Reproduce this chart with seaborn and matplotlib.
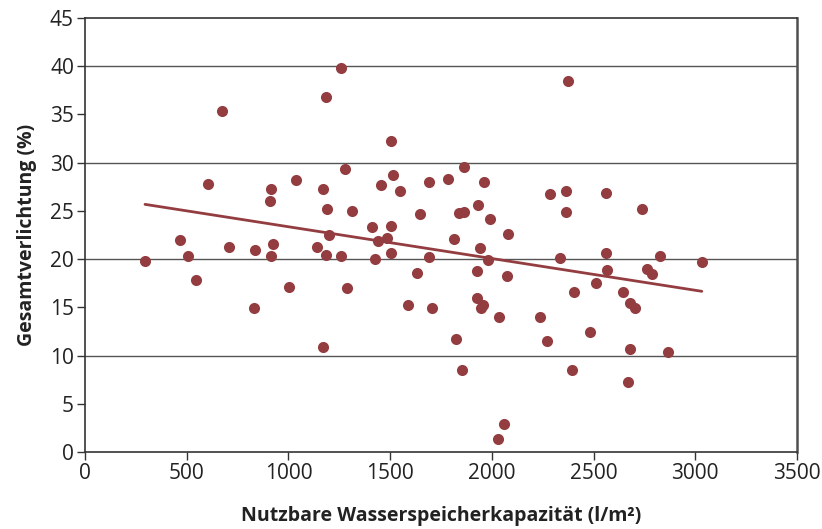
import numpy as np
import pandas as pd
import matplotlib
matplotlib.use("Agg")
import matplotlib.pyplot as plt
import seaborn as sns

# Data
kapazitaet = [295, 467, 505, 544, 605, 675, 706, 831, 836, 908, 913, 914, 924, 1003,
              1037, 1139, 1170, 1172, 1186, 1186, 1188, 1201, 1257, 1258, 1278, 1288,
              1314, 1411, 1427, 1439, 1455, 1486, 1503, 1504, 1506, 1513, 1550, 1586,
              1632, 1649, 1690, 1690, 1704, 1783, 1816, 1826, 1837, 1855, 1862, 1862,
              1926, 1929, 1930, 1942, 1947, 1958, 1960, 1983, 1993, 2032, 2037, 2060,
              2073, 2078, 2237, 2271, 2285, 2337, 2363, 2365, 2376, 2394, 2404, 2483,
              2511, 2560, 2561, 2566, 2643, 2668, 2678, 2679, 2706, 2738, 2761, 2789,
              2827, 2866, 3032]
verlichtung = [19.8, 21.95, 20.3, 17.8, 27.8, 35.4, 21.3, 14.9, 20.9, 26.0, 20.3, 27.3,
               21.6, 17.1, 28.2, 21.3, 27.3, 10.85, 36.8, 20.4, 25.2, 22.5, 20.3, 39.8,
               29.3, 17.0, 24.96, 23.3, 20.0, 21.85, 27.7, 22.2, 32.2, 20.6, 23.4, 28.7,
               27.1, 15.2, 18.6, 24.7, 28.0, 20.2, 14.9, 28.3, 22.1, 11.75, 24.8, 8.5,
               24.9, 29.6, 16.0, 18.8, 25.6, 21.15, 14.9, 15.2, 28.0, 19.9, 24.2, 1.3,
               14.0, 2.9, 18.25, 22.6, 14.0, 11.55, 26.8, 20.15, 24.85, 27.1, 38.5, 8.5,
               16.6, 12.4, 17.5, 20.6, 26.9, 18.9, 16.6, 7.26, 15.5, 10.7, 14.9, 25.2,
               19.0, 18.5, 20.3, 10.4, 19.7]
x_ticks = [0, 500, 1000, 1500, 2000, 2500, 3000, 3500]
y_ticks = [0, 5, 10, 15, 20, 25, 30, 35, 40, 45]
y_grid = [10, 20, 30, 40]

df = pd.DataFrame({"x": kapazitaet, "y": verlichtung})

sns.set_theme(style="white")
plt.rcParams["font.family"] = ["Open Sans", "DejaVu Sans"]

color = "#943D41"
fig = plt.figure(figsize=(8.22, 5.29), dpi=100)
ax = fig.add_axes([85 / 822, 1 - 452 / 529, 712 / 822, 434 / 529])

for g in y_grid:
    ax.axhline(g, color="#555555", lw=1.0, zorder=0)

sns.regplot(data=df, x="x", y="y", ax=ax, ci=None, color=color,
            scatter_kws={"s": 64, "alpha": 1, "linewidths": 0, "zorder": 3},
            line_kws={"lw": 2.0, "zorder": 2})

ax.set_xlim(0, 3500)
ax.set_ylim(0, 45)
ax.set_xticks(x_ticks)
ax.set_yticks(y_ticks)
ax.tick_params(axis="both", which="major", direction="out", length=5.5, width=1.0,
               color="#333333", labelsize=15, labelcolor="#222222", pad=2.5,
               bottom=True, left=True)
for s in ["left", "bottom", "top"]:
    ax.spines[s].set_color("#333333")
    ax.spines[s].set_linewidth(1.2)
ax.spines["right"].set_color("#505050")
ax.spines["right"].set_linewidth(1.8)

ax.set_xlabel("Nutzbare Wasserspeicherkapazität (l/m²)", fontsize=14, fontweight="bold",
              color="#222222", labelpad=16)
ax.set_ylabel("Gesamtverlichtung (%)", fontsize=14, fontweight="bold",
              color="#222222", labelpad=9)

fig.savefig("out.png", dpi=100)
